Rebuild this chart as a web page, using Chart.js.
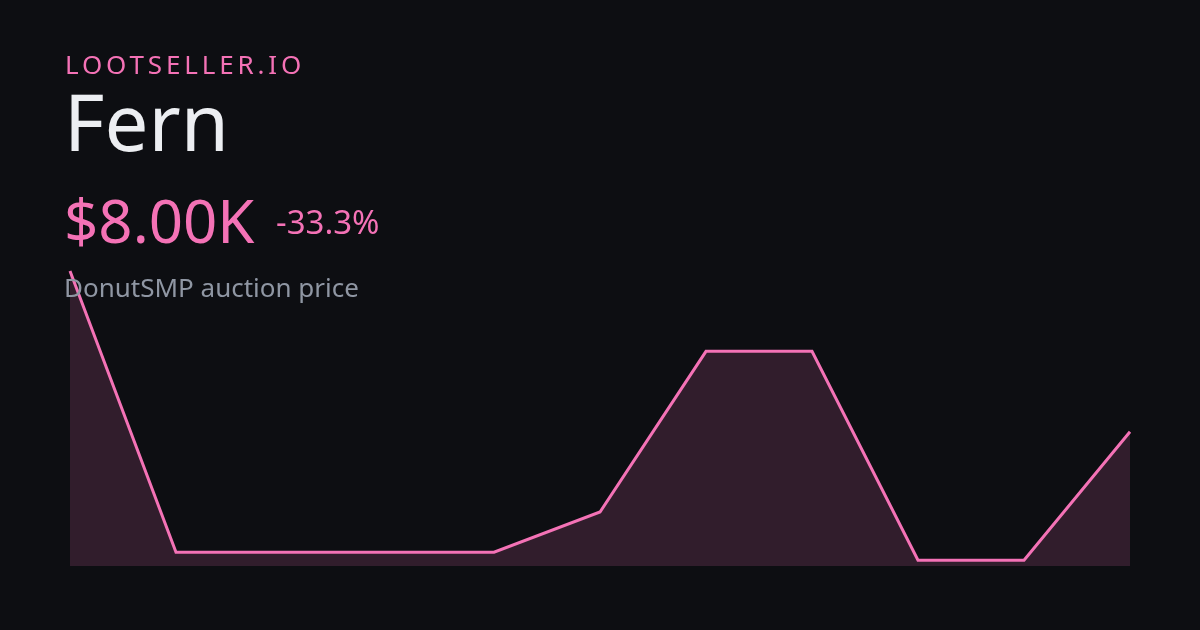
<!DOCTYPE html>
<html><head><meta charset="utf-8">
<script src="https://cdn.jsdelivr.net/npm/chart.js@4"></script>
<style>
html,body{margin:0;padding:0;background:#0d0e12;}
#wrap{position:relative;width:1200px;height:630px;overflow:hidden;background:#0d0e12;font-family:"Noto Sans",sans-serif;}
#c{position:absolute;left:0;top:0;}
.t{position:absolute;white-space:nowrap;line-height:1;}
#brand{left:65px;top:51px;font-size:26px;letter-spacing:3.85px;color:#f472b6;}
#name{left:64px;top:81.5px;font-size:78px;color:#eceef2;}
#price{left:64px;top:190px;font-size:60px;color:#f472b6;}
#chg{left:276px;top:205px;font-size:33px;color:#f472b6;}
#sub{left:64px;top:274px;font-size:26px;color:#8f96a3;}
</style></head>
<body><div id="wrap">
<canvas id="c" width="1200" height="630"></canvas>
<div class="t" id="brand">LOOTSELLER.IO</div>
<div class="t" id="name">Fern</div>
<div class="t" id="price">$8.00K</div>
<div class="t" id="chg">-33.3%</div>
<div class="t" id="sub">DonutSMP auction price</div>
</div>
<script>
const labels = ["1","2","3","4","5","6","7","8","9","10","11"];
const prices = [12000,5000,5000,5000,5000,6000,10000,10000,4800,4800,8000];
const yMin = 4656;
const yMax = 12000;

new Chart(document.getElementById('c'), {
  type: 'line',
  data: {
    labels: labels,
    datasets: [{
      data: prices,
      borderColor: '#f472b6',
      borderWidth: 3,
      backgroundColor: 'rgba(244,114,182,0.16)',
      fill: 'start',
      pointRadius: 0,
      tension: 0,
      clip: false
    }]
  },
  options: {
    responsive: false,
    animation: false,
    devicePixelRatio: 1,
    layout: { padding: { left: 70, right: 70, top: 271, bottom: 64 } },
    plugins: { legend: { display: false }, tooltip: { enabled: false } },
    scales: {
      x: { display: false, offset: false },
      y: { display: false, min: yMin, max: yMax }
    }
  }
});
</script>
</body></html>
